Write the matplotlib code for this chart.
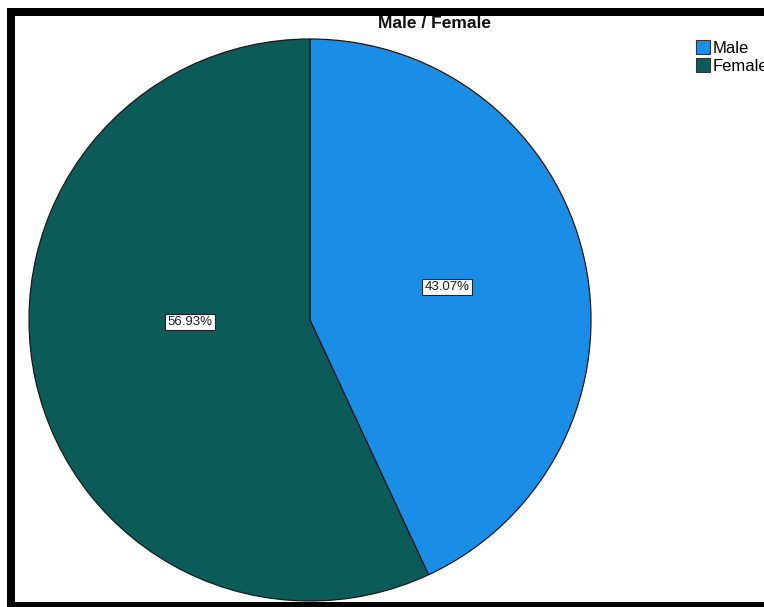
import matplotlib
matplotlib.use("Agg")
import matplotlib.pyplot as plt
from matplotlib.patches import Rectangle, Patch

plt.rcParams["font.family"] = ["Liberation Sans", "DejaVu Sans"]

labels = ["Male", "Female"]
shares = [43.07, 56.93]
colors = ["#1a8ee6", "#0b5b59"]
title = "Male / Female"

W, H = 764, 607
fig = plt.figure(figsize=(W / 100, H / 100), dpi=100)
fig.patch.set_facecolor("white")
ax = fig.add_axes([0, 0, 1, 1])

wedges, texts, autotexts = ax.pie(
    shares,
    colors=colors,
    startangle=90,
    counterclock=False,
    center=(310, H - 320),
    radius=281,
    autopct="%.2f%%",
    pctdistance=0.5,
    wedgeprops=dict(edgecolor="#1a1a1a", linewidth=0.9),
    textprops=dict(fontsize=9.5, color="#222222"),
)
# SPSS-style label positions (pixels from top-left)
label_pos = [(447, 287), (190, 322)]
for t, (x, y) in zip(autotexts, label_pos):
    t.set_position((x, H - y))
    t.set_bbox(dict(facecolor="white", edgecolor="#222222", linewidth=0.8, pad=1.5))

ax.set_xlim(0, W)
ax.set_ylim(0, H)
ax.set_aspect("equal")
ax.axis("off")

fig.text(435 / W, 1 - 23 / H, title, ha="center", va="center",
         fontsize=12.5, fontweight="bold", color="#111111")

handles = [Patch(facecolor=c, edgecolor="#333333", linewidth=0.8) for c in colors]
fig.legend(handles, labels, loc="upper left", bbox_to_anchor=(696 / W, 1 - 40 / H),
           frameon=False, fontsize=12, handlelength=0.85, handleheight=0.9,
           handletextpad=0.15, labelspacing=0.15, borderaxespad=0, borderpad=0)

# black frame (top, left, bottom)
fig.add_artist(Rectangle((7 / W, 1 - 16 / H), (W - 7) / W, 8 / H,
                         transform=fig.transFigure, facecolor="black", edgecolor="none"))
fig.add_artist(Rectangle((7 / W, 0), 8 / W, 1 - 8 / H,
                         transform=fig.transFigure, facecolor="black", edgecolor="none"))
fig.add_artist(Rectangle((7 / W, 0), (W - 7) / W, 5 / H,
                         transform=fig.transFigure, facecolor="black", edgecolor="none"))

fig.savefig("out.png", dpi=100)
